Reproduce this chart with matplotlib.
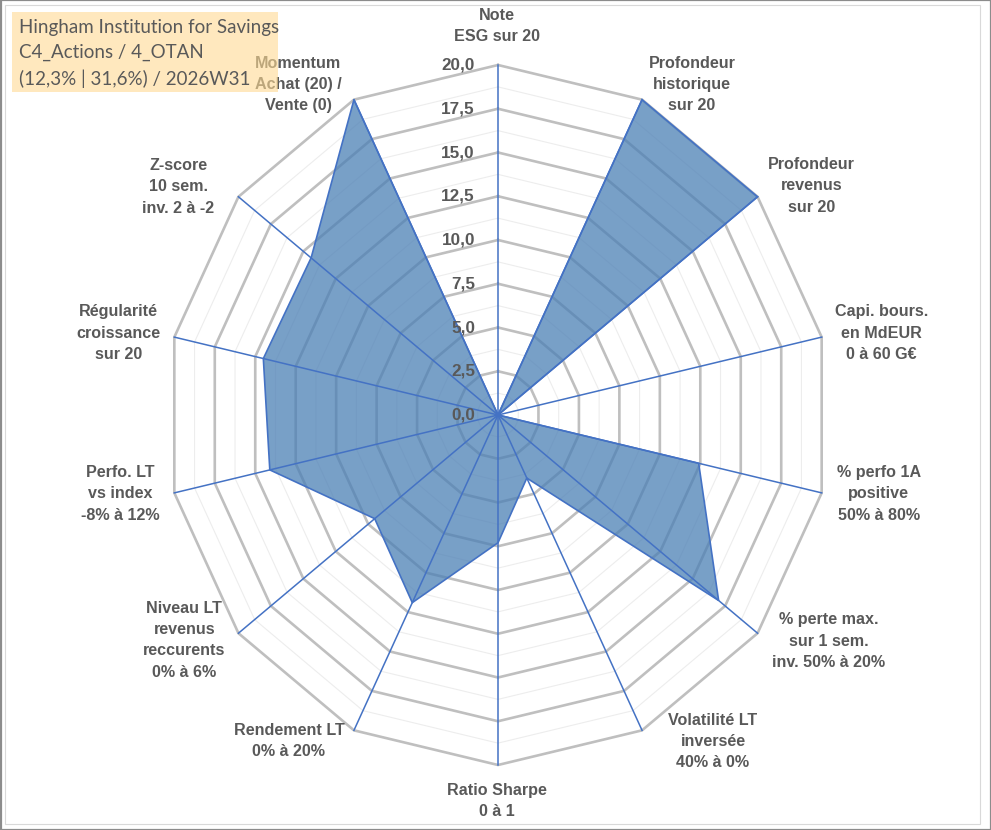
import matplotlib
matplotlib.use("Agg")
import numpy as np
import matplotlib.pyplot as plt
from matplotlib.patches import Polygon, Rectangle

# ---------------- data ----------------
categories = [
    "Note\nESG sur 20",
    "Profondeur\nhistorique\nsur 20",
    "Profondeur\nrevenus\nsur 20",
    "Capi. bours.\nen MdEUR\n0 à 60 G€",
    "% perfo 1A\npositive\n50% à 80%",
    "% perte max.\nsur 1 sem.\ninv. 50% à 20%",
    "Volatilité LT\ninversée\n40% à 0%",
    "Ratio Sharpe\n0 à 1",
    "Rendement LT\n0% à 20%",
    "Niveau LT\nrevenus\nreccurents\n0% à 6%",
    "Perfo. LT\nvs index\n-8% à 12%",
    "Régularité\ncroissance\nsur 20",
    "Z-score\n10 sem.\ninv. 2 à -2",
    "Momentum\nAchat (20) /\nVente (0)",
]
values = [0, 20, 20, 0, 12.4, 17.0, 4.0, 7.3, 11.9, 9.5, 14.1, 14.5, 14.4, 20]
ticks = [0, 2.5, 5, 7.5, 10, 12.5, 15, 17.5, 20]
minor_ticks = [1.25, 3.75, 6.25, 8.75, 11.25, 13.75, 16.25, 18.75]
title_lines = ["Hingham Institution for Savings",
               "C4_Actions / 4_OTAN",
               "(12,3% | 31,6%) / 2026W31"]

# ---------------- layout / style ----------------
W, H = 991, 830
CX, CY = 498, 415          # centre in pixels
RX, RY = 332, 350          # pixel radius of the 20 ring (chart is slightly stretched)
VMAX = 20
# label offsets (pixels, x right / y up) from each axis tip
label_offsets = [(-1, 39), (50, 15), (54, 11), (60, 4), (57, -1), (71, -8), (71, -11),
                 (-1, -36), (-65, -11), (-54, -7), (-54, -1), (-56, 4), (-60, 10), (-56, 15)]

TXT = "#595959"
BLUE = "#4472C4"
LBL_FONT = ["Liberation Sans", "DejaVu Sans"]

fig = plt.figure(figsize=(W / 100, H / 100), dpi=100)
ax = fig.add_axes([0, 0, 1, 1])
ax.set_xlim(-CX / RX * VMAX, (W - CX) / RX * VMAX)
ax.set_ylim(-(H - CY) / RY * VMAX, CY / RY * VMAX)
ax.axis("off")

n = len(categories)
theta = np.arange(n) * 2 * np.pi / n


def ring(r):
    t = np.append(theta, theta[0])
    return r * np.sin(t), r * np.cos(t)


for r in minor_ticks:
    x, y = ring(r)
    ax.plot(x, y, color="#EDEDED", lw=0.8, zorder=1)
for r in ticks[1:]:
    x, y = ring(r)
    ax.plot(x, y, color="#BFBFBF", lw=1.9, zorder=1.5, solid_joinstyle="miter")

# series polygon
v = np.array(values, dtype=float)
px, py = v * np.sin(theta), v * np.cos(theta)
poly = Polygon(np.column_stack([px, py]), closed=True,
               facecolor=(75 / 255, 128 / 255, 181 / 255, 0.75), edgecolor=BLUE, lw=1.2, zorder=3)
ax.add_patch(poly)

# radial axes
for th in theta:
    ax.plot([0, VMAX * np.sin(th)], [0, VMAX * np.cos(th)], color=BLUE, lw=1.1, zorder=4)

# value tick labels
for t in ticks:
    ax.annotate(f"{t:.1f}".replace(".", ","), xy=(0, t), xytext=(-23, 0),
                textcoords="offset pixels", ha="right", va="center",
                fontsize=12.3, fontweight="bold", color=TXT, family=LBL_FONT, zorder=6)

# category labels
for cat, th, off in zip(categories, theta, label_offsets):
    ax.annotate(cat, xy=(VMAX * np.sin(th), VMAX * np.cos(th)), xytext=off,
                textcoords="offset pixels", ha="center", va="center", multialignment="center",
                fontsize=11.6, fontweight="bold", color=TXT, family=LBL_FONT,
                linespacing=1.52, zorder=6)

# frame
fig.add_artist(Rectangle((0.5 / W, 0.5 / H), 1 - 1 / W, 1 - 1 / H, transform=fig.transFigure,
                         fill=False, edgecolor="#8C8C8C", lw=1.6, zorder=10))
fig.add_artist(Rectangle((5 / W, (H - 824) / H), (980 - 5) / W, (824 - 5) / H,
                         transform=fig.transFigure, fill=False, edgecolor="#D9D9D9",
                         lw=0.8, zorder=10))

# title box
fig.add_artist(Rectangle((12 / W, (H - 92) / H), 266 / W, 80 / H, transform=fig.transFigure,
                         facecolor="#FFDA93", alpha=0.6, edgecolor="none", zorder=20))
for line, yc in zip(title_lines, [27, 52, 79]):
    fig.text(19 / W, (H - yc) / H, line, ha="left", va="center", fontsize=13.5,
             color=TXT, family=["Lato", "DejaVu Sans"], zorder=21)

fig.savefig("out.png", dpi=100)
